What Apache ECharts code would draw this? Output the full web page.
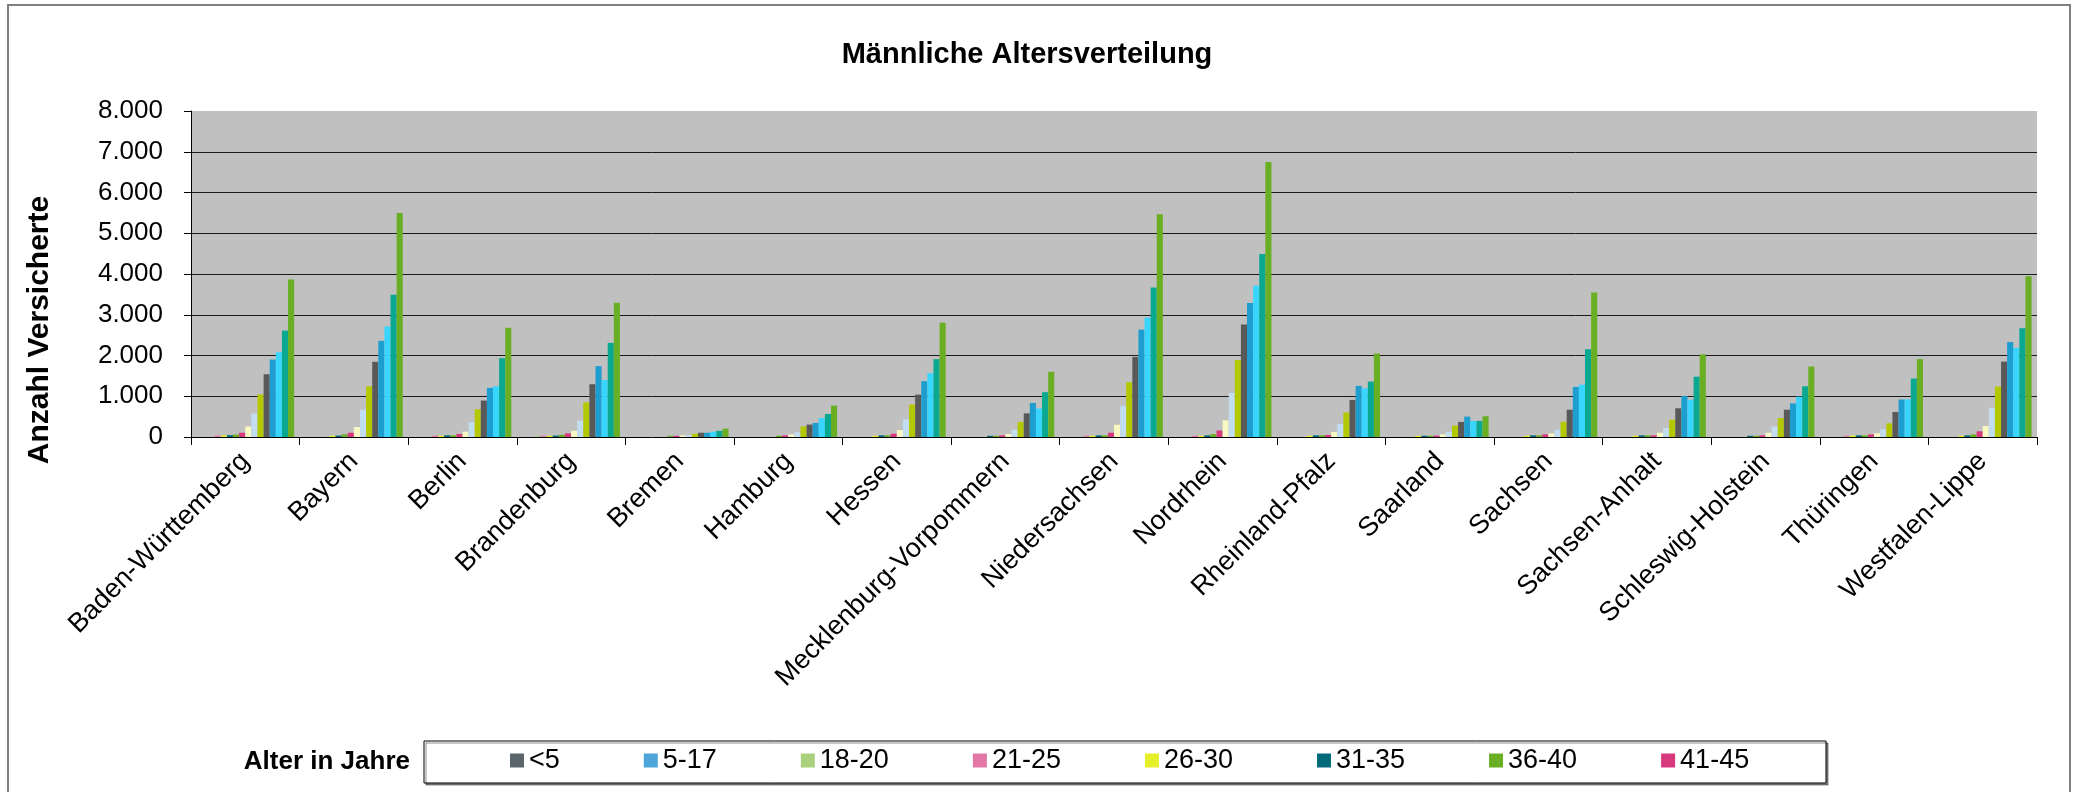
<!DOCTYPE html>
<html>
<head>
<meta charset="utf-8">
<title>Männliche Altersverteilung</title>
<script src="https://cdn.jsdelivr.net/npm/echarts@6/dist/echarts.min.js"></script>
<style>
  html, body { margin: 0; padding: 0; background: #ffffff; }
  #chart { width: 2078px; height: 792px; }
</style>
</head>
<body>
<div id="chart"></div>
<script>
// Kassenärztliche Vereinigungen (Kategorien der x-Achse)
const laender = [
  'Baden-Württemberg', 'Bayern', 'Berlin', 'Brandenburg', 'Bremen', 'Hamburg',
  'Hessen', 'Mecklenburg-Vorpommern', 'Niedersachsen', 'Nordrhein',
  'Rheinland-Pfalz', 'Saarland', 'Sachsen', 'Sachsen-Anhalt',
  'Schleswig-Holstein', 'Thüringen', 'Westfalen-Lippe'
];

// Altersgruppen (Reihenfolge der Balken je Land)
const altersgruppen = [
  '<5', '5-17', '18-20', '21-25', '26-30', '31-35', '36-40', '41-45',
  '46-50', '51-55', '56-60', '61-65', '66-70', '71-75', '76-80', 'ab 81'
];

// Anzahl Versicherte je Altersgruppe, in der Reihenfolge von "laender"
const alter_unter5 = [0, 0, 0, 0, 0, 0, 0, 0, 0, 0, 0, 0, 0, 0, 0, 0, 0];
const alter_5_17   = [0, 0, 0, 0, 0, 0, 0, 0, 0, 0, 0, 0, 0, 0, 0, 0, 0];
const alter_18_20  = [0, 0, 0, 20, 0, 0, 0, 0, 0, 0, 0, 0, 0, 0, 0, 0, 0];
const alter_21_25  = [35, 0, 30, 30, 0, 0, 0, 0, 30, 30, 0, 0, 0, 0, 0, 30, 0];
const alter_26_30  = [35, 30, 30, 30, 0, 0, 30, 0, 30, 30, 30, 30, 30, 30, 0, 35, 30];
const alter_31_35  = [45, 35, 40, 35, 0, 0, 40, 30, 40, 40, 40, 30, 40, 40, 30, 40, 40];
const alter_36_40  = [60, 65, 40, 55, 30, 30, 40, 30, 40, 70, 40, 30, 40, 40, 30, 40, 65];
const alter_41_45  = [105, 105, 75, 90, 30, 40, 80, 40, 105, 160, 50, 35, 65, 40, 40, 65, 140];
const alter_46_50  = [260, 245, 130, 155, 40, 65, 170, 75, 300, 410, 125, 65, 90, 105, 105, 90, 270];
const alter_51_55  = [575, 670, 360, 400, 50, 115, 435, 180, 755, 1080, 320, 130, 180, 220, 260, 190, 720];
const alter_56_60  = [1045, 1245, 680, 850, 80, 260, 795, 370, 1345, 1890, 600, 280, 375, 425, 465, 335, 1240];
const alter_61_65  = [1540, 1845, 895, 1295, 105, 305, 1040, 580, 1965, 2760, 910, 370, 670, 705, 670, 615, 1850];
const alter_66_70  = [1900, 2360, 1205, 1740, 105, 345, 1370, 835, 2635, 3290, 1255, 500, 1230, 1005, 825, 920, 2330];
const alter_71_75  = [2080, 2710, 1245, 1400, 130, 465, 1565, 700, 2930, 3710, 1195, 395, 1285, 915, 990, 925, 2190];
const alter_76_80  = [2610, 3490, 1935, 2310, 150, 565, 1910, 1100, 3670, 4490, 1360, 395, 2155, 1480, 1245, 1435, 2670];
const alter_ab81   = [3865, 5495, 2680, 3295, 205, 770, 2805, 1600, 5465, 6750, 2050, 510, 3545, 2030, 1730, 1910, 3945];

// Beschriftung der y-Achse
const yTicks = [0, 1000, 2000, 3000, 4000, 5000, 6000, 7000, 8000];

const reihenWerte = [
  alter_unter5, alter_5_17, alter_18_20, alter_21_25, alter_26_30, alter_31_35,
  alter_36_40, alter_41_45, alter_46_50, alter_51_55, alter_56_60, alter_61_65,
  alter_66_70, alter_71_75, alter_76_80, alter_ab81
];

const farben = [
  '#5a646b', '#4ea5d9', '#a9d07b', '#e377a8', '#e6f02a', '#006a7a',
  '#6aae24', '#d8387e', '#f8f8c2', '#c2dcf0', '#b4c800', '#595959',
  '#1e9dcf', '#38d6ff', '#0aa890', '#6aaf23'
];

const FONT = '"Liberation Sans", Arial, sans-serif';

// Tausenderpunkt wie "8.000"
function deZahl(v) {
  return String(v).replace(/\B(?=(\d{3})+(?!\d))/g, '.');
}

const chart = echarts.init(document.getElementById('chart'), null, { renderer: 'canvas' });

const series = altersgruppen.map((name, i) => ({
  name: name,
  type: 'bar',
  data: reihenWerte[i],
  barGap: '0%',
  barCategoryGap: '10%',
  itemStyle: { color: farben[i] },
  emphasis: { disabled: true },
  animation: false
}));

chart.setOption({
  animation: false,
  backgroundColor: '#ffffff',
  textStyle: { fontFamily: FONT },
  grid: {
    left: 191, right: 41, top: 111, bottom: 355,
    show: true, backgroundColor: '#c0c0c0', borderWidth: 0
  },
  legend: {
    data: altersgruppen.slice(0, 8),
    left: 510, top: 747,
    padding: 0,
    itemWidth: 14, itemHeight: 14, itemGap: 84,
    icon: 'rect',
    selectedMode: false,
    textStyle: { fontFamily: FONT, fontSize: 27, color: '#000' }
  },
  xAxis: {
    type: 'category',
    data: laender,
    boundaryGap: true,
    axisLine: { show: true, lineStyle: { color: '#000', width: 1 } },
    axisTick: { show: true, length: 8, inside: false, alignWithLabel: false, lineStyle: { color: '#000' } },
    axisLabel: {
      interval: 0, rotate: 45, margin: 20,
      fontFamily: FONT, fontSize: 27, color: '#000'
    },
    splitLine: { show: false }
  },
  yAxis: {
    type: 'value',
    min: yTicks[0], max: yTicks[yTicks.length - 1], interval: 1000,
    axisLine: { show: true, lineStyle: { color: '#000', width: 1 } },
    axisTick: { show: true, length: 7, inside: false, lineStyle: { color: '#000' } },
    axisLabel: {
      margin: 28, fontFamily: FONT, fontSize: 26, color: '#000',
      formatter: deZahl
    },
    splitLine: { show: true, showMaxLine: false, showMinLine: false, lineStyle: { color: '#1a1a1a', width: 1 } }
  },
  series: series,
  graphic: [
    {
      type: 'rect', silent: true, z: -10,
      shape: { x: 8, y: 5, width: 2062, height: 800 },
      style: { fill: 'none', stroke: '#808080', lineWidth: 2 }
    },
    {
      type: 'text', silent: true,
      x: 1027, y: 55,
      style: {
        text: 'Männliche Altersverteilung',
        fontFamily: FONT, fontSize: 29, fontWeight: 'bold', fill: '#000',
        align: 'center', verticalAlign: 'middle'
      }
    },
    {
      type: 'text', silent: true,
      x: 40, y: 330, rotation: Math.PI / 2,
      style: {
        text: 'Anzahl Versicherte',
        fontFamily: FONT, fontSize: 30, fontWeight: 'bold', fill: '#000',
        align: 'center', verticalAlign: 'middle'
      }
    },
    {
      type: 'rect', silent: true,
      shape: { x: 424, y: 741, width: 1402, height: 42 },
      style: { fill: '#ffffff', stroke: '#000', lineWidth: 1, shadowColor: 'rgba(0,0,0,0.45)', shadowOffsetX: 2, shadowOffsetY: 2 },
      z: -1
    },
    {
      type: 'text', silent: true,
      x: 410, y: 762,
      style: {
        text: 'Alter in Jahre',
        fontFamily: FONT, fontSize: 26, fontWeight: 'bold', fill: '#000',
        align: 'right', verticalAlign: 'middle'
      }
    }
  ]
});
</script>
</body>
</html>
